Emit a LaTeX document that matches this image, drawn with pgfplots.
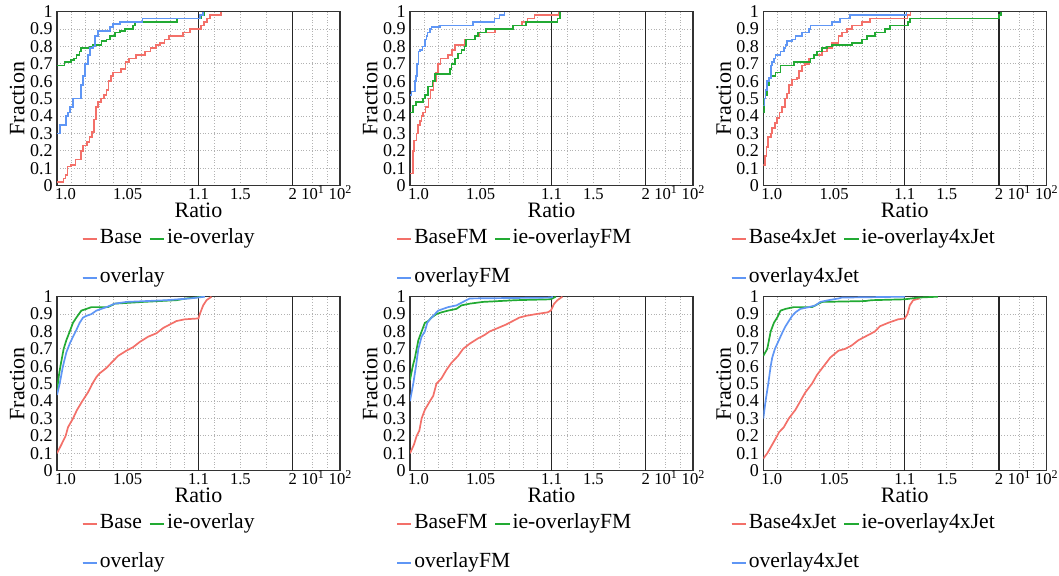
\documentclass[border=0pt]{standalone}
\usepackage{fontspec}
\setmainfont{Liberation Serif}
\usepackage{pgfplots}
\pgfplotsset{compat=1.18}
\definecolor{cR}{RGB}{243,112,105}
\definecolor{cG}{RGB}{34,170,51}
\definecolor{cB}{RGB}{95,150,245}
\newcommand{\sups}[1]{\raisebox{3pt}{\fontsize{6}{6}\selectfont #1}}
\pgfplotsset{
 prof/.style={
  scale only axis, width=141.5pt, height=87pt,
  xmin=0, xmax=20, ymin=0, ymax=1,
  xtick={0,5,10,12.96,16.66,18.07,20},
  xticklabels={\hspace*{8.5pt}1.0,1.05,1.1,1.5,2,10\sups{1},10\sups{2}},
  minor xtick={1,2,3,4,6,7,8,9,11.11,14.81,19.08},
  ytick={0,0.1,0.2,0.3,0.4,0.5,0.6,0.7,0.8,0.9,1},
  yticklabels={0,0.1,0.2,0.3,0.4,0.5,0.6,0.7,0.8,0.9,1},
  grid=both,
  major grid style={gray!60, densely dotted, line width=0.45pt},
  minor grid style={gray!60, densely dotted, line width=0.45pt},
  axis line style={black!80, line width=0.6pt},
  major tick length=0pt, minor tick length=0pt,
  xticklabel style={font=\fontsize{8.3}{9}\selectfont, text height=6pt, text depth=0pt, inner sep=0.6pt},
  yticklabel style={font=\fontsize{9}{10}\selectfont, inner sep=2pt},
  label style={font=\fontsize{11}{13}\selectfont},
  xlabel={Ratio}, ylabel={Fraction},
  xlabel style={inner sep=0pt, yshift=-1.2pt},
  ylabel style={inner sep=0.5pt},
  legend columns=2,
  legend cell align=left,
  legend style={draw=none, fill=none, font=\fontsize{10.8}{13}\selectfont,
    anchor=north west, inner sep=0pt, row sep=7.5pt,
    nodes={inner sep=1pt, text height=7.5pt, text depth=2.5pt},
    /tikz/every even column/.append style={column sep=2.5pt}},
  legend image code/.code={\draw[##1, line width=0.9pt] (0pt,0pt) -- (5.35pt,0pt); \path (0pt,0pt) -- (7.2pt,0pt);},
  every axis plot/.append style={line width=0.85pt},
 },
 vlines/.style={black!85, line width=0.6pt, forget plot},
}
\begin{document}
\begin{tikzpicture}
%================ Panel 1 ================
\begin{axis}[prof, at={(28.5pt,-92.8pt)}, anchor=south west,
  legend style={at={(axis description cs:0.086,-0.235)}}]
\addplot[vlines] coordinates {(10,0) (10,1)};
\addplot[vlines] coordinates {(16.66,0) (16.66,1)};
\addplot[cR, const plot] coordinates {(0,0.02) (0.45,0.04) (0.6,0.06) (0.75,0.11) (1.0,0.12) (1.3,0.15) (1.7,0.2) (1.85,0.23) (2.1,0.25) (2.3,0.28) (2.45,0.31) (2.6,0.38) (2.75,0.45) (2.9,0.48) (3.1,0.5) (3.3,0.52) (3.5,0.55) (3.65,0.6) (3.8,0.63) (3.95,0.65) (4.5,0.67) (4.85,0.71) (5.1,0.73) (5.6,0.75) (6.2,0.77) (6.6,0.79) (7.0,0.81) (7.3,0.82) (7.6,0.84) (7.9,0.86) (8.9,0.88) (9.4,0.9) (10.0,0.9) (10.2,0.92) (10.4,0.94) (10.6,0.96) (10.8,0.98) (11.6,0.98) (11.6,1.0)};
\addlegendentry{Base}
\addplot[cG, const plot] coordinates {(0,0.69) (0.54,0.71) (1.0,0.72) (1.18,0.73) (1.37,0.75) (1.6,0.77) (1.72,0.79) (2.31,0.8) (2.55,0.81) (3.14,0.83) (3.49,0.84) (3.73,0.86) (4.08,0.88) (4.43,0.89) (4.79,0.9) (5.38,0.92) (5.5,0.94) (8.49,0.96) (10.21,0.98) (10.38,1.0)};
\addlegendentry{ie-overlay}
\addplot[cB, const plot] coordinates {(0,0.3) (0.19,0.35) (0.66,0.4) (0.78,0.42) (0.9,0.45) (1.13,0.5) (1.72,0.58) (1.84,0.63) (1.96,0.7) (2.2,0.75) (2.31,0.79) (2.55,0.8) (2.67,0.86) (2.9,0.89) (3.73,0.91) (3.96,0.93) (4.43,0.94) (6.04,0.96) (10.09,0.98) (10.33,1.0)};
\addlegendentry{\rlap{overlay}}
\end{axis}
%================ Panel 2 ================
\begin{axis}[prof, at={(205pt,-92.8pt)}, anchor=south west,
  legend style={at={(axis description cs:-0.0505,-0.235)}}]
\addplot[vlines] coordinates {(10,0) (10,1)};
\addplot[vlines] coordinates {(16.66,0) (16.66,1)};
\addplot[cR, const plot] coordinates {(0,0.07) (0.2,0.2) (0.3,0.26) (0.45,0.3) (0.55,0.35) (0.7,0.37) (0.82,0.4) (0.94,0.42) (1.1,0.45) (1.3,0.5) (1.45,0.55) (1.65,0.6) (1.85,0.65) (2.0,0.7) (2.15,0.73) (2.7,0.75) (2.95,0.78) (3.2,0.81) (3.9,0.84) (4.6,0.86) (4.9,0.88) (6.0,0.9) (7.3,0.92) (7.9,0.94) (8.3,0.96) (8.8,0.98) (10.54,1.0)};
\addlegendentry{BaseFM}
\addplot[cG, const plot] coordinates {(0,0.42) (0.23,0.46) (0.4,0.48) (0.94,0.5) (1.05,0.52) (1.29,0.57) (1.59,0.6) (1.76,0.64) (2.81,0.67) (2.93,0.7) (3.16,0.73) (3.4,0.76) (3.63,0.78) (3.86,0.8) (3.98,0.84) (4.57,0.86) (4.8,0.88) (5.39,0.9) (7.26,0.92) (8.2,0.94) (10.42,0.96) (10.59,1.0)};
\addlegendentry{ie-overlayFM}
\addplot[cB, const plot] coordinates {(0,0.52) (0.1,0.54) (0.35,0.6) (0.4,0.63) (0.47,0.7) (0.59,0.77) (0.7,0.78) (0.89,0.8) (1.05,0.84) (1.17,0.86) (1.24,0.88) (1.4,0.9) (1.52,0.91) (2.11,0.92) (4.45,0.94) (5.97,0.96) (6.32,0.98) (6.67,1.0)};
\addlegendentry{\rlap{overlayFM}}
\end{axis}
%================ Panel 3 ================
\begin{axis}[prof, at={(381.65pt,-92.8pt)}, anchor=south west,
  legend style={at={(axis description cs:-0.1166,-0.235)}}]
\addplot[vlines] coordinates {(10,0) (10,1)};
\addplot[vlines] coordinates {(16.66,0) (16.66,1)};
\addplot[cR, const plot] coordinates {(0,0.12) (0.12,0.17) (0.23,0.22) (0.35,0.28) (0.52,0.3) (0.63,0.33) (0.82,0.36) (0.98,0.39) (1.15,0.42) (1.33,0.45) (1.52,0.5) (1.69,0.53) (1.8,0.58) (2.04,0.61) (2.39,0.62) (2.51,0.66) (2.74,0.69) (2.97,0.7) (3.21,0.73) (3.56,0.75) (4.15,0.77) (4.5,0.79) (4.85,0.82) (5.32,0.86) (5.55,0.88) (5.9,0.9) (6.25,0.92) (6.96,0.94) (7.54,0.96) (10.19,0.98) (10.4,1.0)};
\addlegendentry{Base4xJet}
\addplot[cG, const plot] coordinates {(0,0.42) (0.05,0.5) (0.16,0.52) (0.28,0.58) (0.4,0.62) (0.52,0.63) (0.87,0.65) (1.22,0.69) (2.15,0.71) (3.33,0.73) (3.56,0.75) (3.79,0.77) (4.15,0.79) (4.5,0.8) (4.85,0.81) (6.25,0.82) (6.96,0.84) (7.31,0.86) (7.89,0.88) (8.6,0.9) (8.95,0.92) (10.23,0.94) (10.35,0.96) (16.66,0.98) (16.8,1.0)};
\addlegendentry{ie-overlay4xJet}
\addplot[cB, const plot] coordinates {(0,0.46) (0.09,0.5) (0.16,0.55) (0.28,0.6) (0.4,0.62) (0.52,0.69) (0.63,0.71) (0.75,0.73) (0.87,0.75) (1.22,0.77) (1.45,0.79) (1.57,0.81) (1.69,0.83) (2.04,0.84) (2.27,0.86) (2.74,0.88) (3.21,0.9) (3.33,0.92) (4.85,0.94) (5.43,0.96) (6.14,0.98) (10.12,1.0)};
\addlegendentry{\rlap{overlay4xJet}}
\end{axis}
%================ Panel 4 ================
\begin{axis}[prof, at={(28.5pt,-235.35pt)}, anchor=south west,
  legend style={at={(axis description cs:0.086,-0.235)}}]
\addplot[vlines] coordinates {(10,0) (10,1)};
\addplot[vlines] coordinates {(16.66,0) (16.66,1)};
\addplot[cR] coordinates {(0,0.1) (0.31,0.15) (0.61,0.2) (0.78,0.25) (1.13,0.3) (1.42,0.35) (1.79,0.4) (2.19,0.45) (2.5,0.5) (2.8,0.54) (3.02,0.56) (3.49,0.59) (3.84,0.62) (4.32,0.66) (4.91,0.69) (5.38,0.71) (5.85,0.74) (6.44,0.77) (7.03,0.79) (7.5,0.82) (7.97,0.84) (8.44,0.86) (9.03,0.87) (10.0,0.875) (10.09,0.9) (10.33,0.95) (10.57,0.98) (10.92,1.0)};
\addlegendentry{Base}
\addplot[cG] coordinates {(0,0.46) (0.14,0.55) (0.24,0.6) (0.47,0.7) (0.66,0.75) (0.9,0.8) (1.13,0.85) (1.37,0.88) (1.72,0.92) (2.08,0.93) (2.43,0.94) (3.61,0.94) (3.84,0.95) (4.08,0.96) (6.08,0.97) (8.44,0.98) (9.15,0.99) (10.33,1.0)};
\addlegendentry{ie-overlay}
\addplot[cB] coordinates {(0,0.435) (0.19,0.5) (0.42,0.6) (0.66,0.68) (0.9,0.73) (1.13,0.77) (1.32,0.8) (1.6,0.85) (1.84,0.88) (2.08,0.89) (2.43,0.9) (2.78,0.92) (3.49,0.94) (4.08,0.96) (4.91,0.97) (7.74,0.98) (9.39,0.99) (10.45,1.0)};
\addlegendentry{\rlap{overlay}}
\end{axis}
%================ Panel 5 ================
\begin{axis}[prof, at={(205pt,-235.35pt)}, anchor=south west,
  legend style={at={(axis description cs:-0.0505,-0.235)}}]
\addplot[vlines] coordinates {(10,0) (10,1)};
\addplot[vlines] coordinates {(16.66,0) (16.66,1)};
\addplot[cR] coordinates {(0,0.1) (0.28,0.15) (0.47,0.2) (0.66,0.23) (0.82,0.3) (1.05,0.35) (1.41,0.4) (1.64,0.43) (1.87,0.5) (2.22,0.53) (2.58,0.58) (2.93,0.62) (3.4,0.66) (3.75,0.7) (4.22,0.73) (4.8,0.76) (5.27,0.78) (5.62,0.8) (6.21,0.82) (6.79,0.84) (7.26,0.86) (7.73,0.88) (8.2,0.89) (8.9,0.9) (9.72,0.91) (9.95,0.92) (10.19,0.96) (10.42,0.98) (10.77,1.0)};
\addlegendentry{BaseFM}
\addplot[cG] coordinates {(0,0.52) (0.19,0.6) (0.35,0.65) (0.59,0.75) (0.82,0.8) (1.05,0.85) (1.29,0.86) (1.52,0.88) (1.87,0.9) (2.22,0.91) (2.69,0.92) (3.28,0.93) (3.63,0.95) (4.22,0.96) (5.15,0.97) (7.49,0.98) (9.9,0.985) (10.07,0.99) (10.3,1.0)};
\addlegendentry{ie-overlayFM}
\addplot[cB] coordinates {(0,0.4) (0.23,0.5) (0.42,0.6) (0.59,0.7) (0.82,0.77) (1.05,0.8) (1.22,0.85) (1.41,0.87) (1.76,0.9) (1.99,0.92) (2.34,0.93) (2.69,0.94) (3.28,0.95) (3.75,0.97) (4.22,0.99) (9.95,0.995) (10.1,1.0)};
\addlegendentry{\rlap{overlayFM}}
\end{axis}
%================ Panel 6 ================
\begin{axis}[prof, at={(381.65pt,-235.35pt)}, anchor=south west,
  legend style={at={(axis description cs:-0.1166,-0.235)}}]
\addplot[vlines] coordinates {(10,0) (10,1)};
\addplot[vlines] coordinates {(16.66,0) (16.66,1)};
\addplot[cR] coordinates {(0,0.07) (0.28,0.1) (0.63,0.15) (0.98,0.2) (1.1,0.22) (1.45,0.25) (1.8,0.3) (2.27,0.35) (2.62,0.4) (2.97,0.45) (3.44,0.5) (3.79,0.55) (4.26,0.6) (4.73,0.65) (5.32,0.69) (5.78,0.7) (6.25,0.72) (6.72,0.75) (7.42,0.78) (7.89,0.8) (8.24,0.83) (8.83,0.85) (9.53,0.87) (10,0.875) (10.19,0.9) (10.35,0.95) (10.59,0.98) (11.05,0.99)};
\addlegendentry{Base4xJet}
\addplot[cG] coordinates {(0,0.66) (0.28,0.7) (0.4,0.75) (0.52,0.8) (0.75,0.85) (0.98,0.88) (1.22,0.92) (1.57,0.93) (2.15,0.94) (3.44,0.94) (3.68,0.95) (3.91,0.96) (4.15,0.97) (7.19,0.975) (7.66,0.98) (10,0.985) (10.47,0.99) (10.94,0.995) (12.34,1.0)};
\addlegendentry{ie-overlay4xJet}
\addplot[cB] coordinates {(0,0.3) (0.16,0.4) (0.35,0.5) (0.52,0.6) (0.63,0.65) (0.82,0.7) (1.1,0.75) (1.38,0.8) (1.57,0.83) (1.8,0.86) (2.04,0.89) (2.27,0.91) (2.62,0.93) (3.21,0.94) (3.68,0.95) (4.03,0.97) (4.61,0.98) (5.32,0.99) (5.55,0.995) (10,1.0)};
\addlegendentry{\rlap{overlay4xJet}}
\end{axis}
\pgfresetboundingbox
\path[use as bounding box] (0pt,0pt) rectangle (529.5pt,-288pt);
\end{tikzpicture}
\end{document}
